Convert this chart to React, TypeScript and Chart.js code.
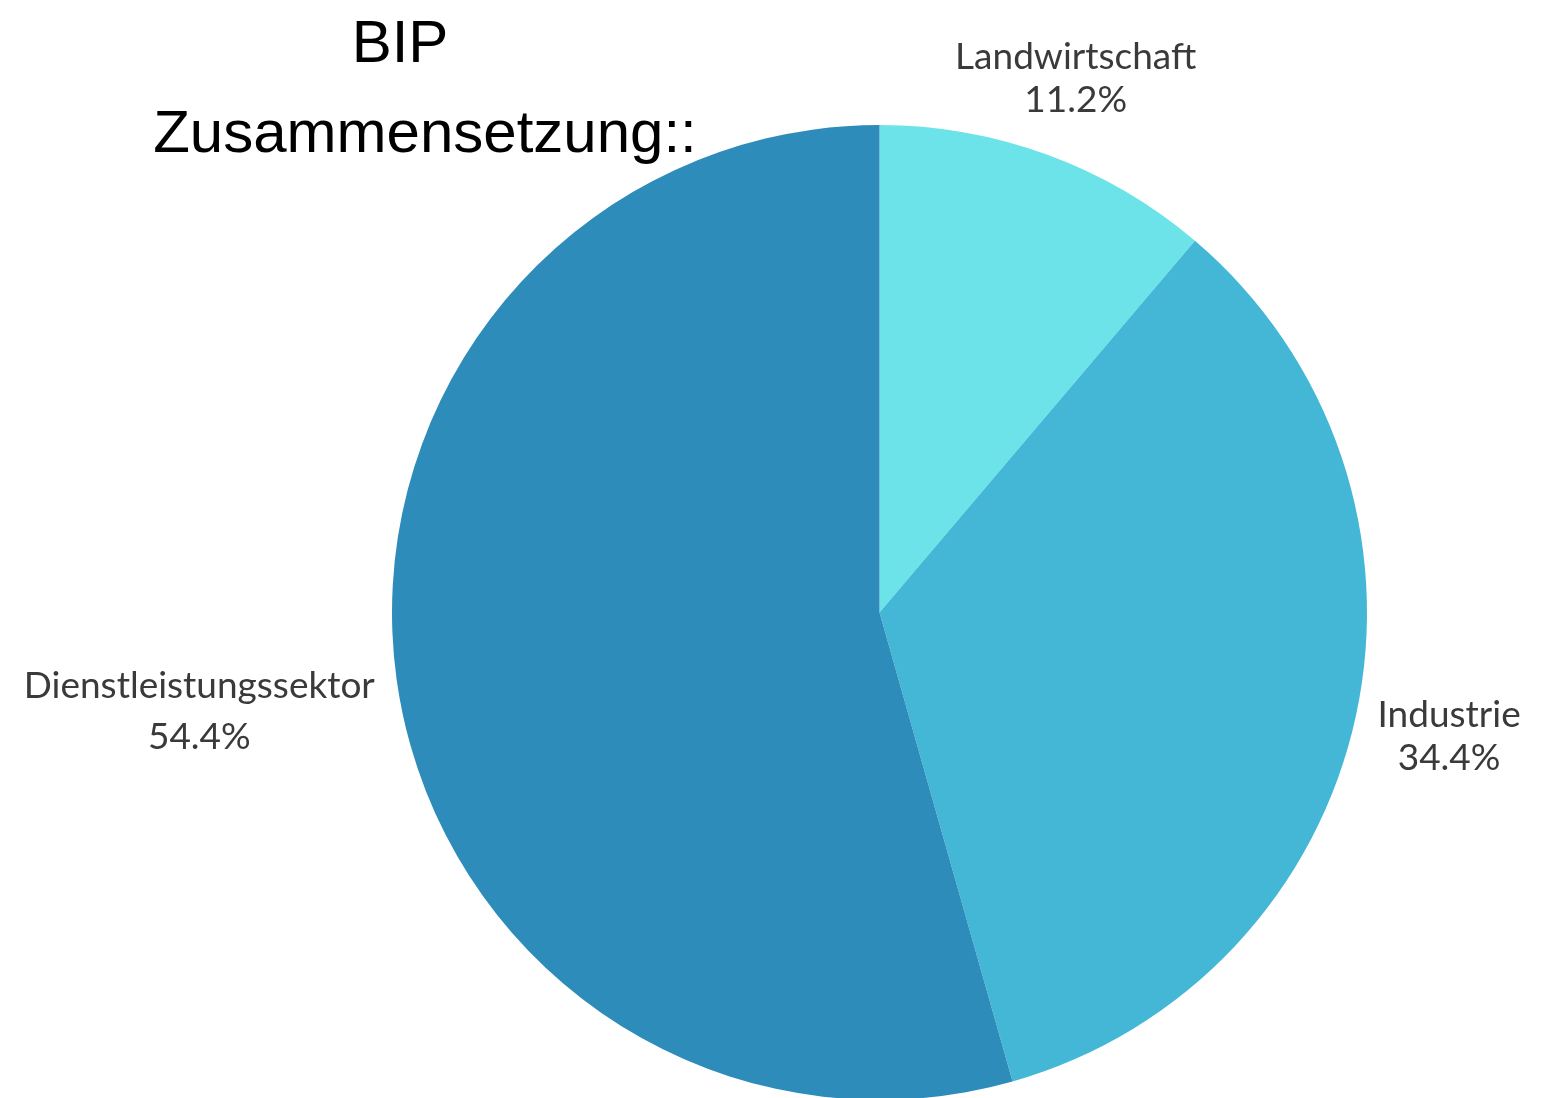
import React, { useEffect, useRef } from "react";
import { Chart, registerables } from "chart.js";

Chart.register(...registerables);

const categories = ["Landwirtschaft", "Industrie", "Dienstleistungssektor"];
const shares = [11.2, 34.4, 54.4];
const sliceColors = ["#6CE3E8", "#44B7D6", "#2E8CBA"];
const titleLines = ["BIP", "Zusammensetzung::"];

const labelFont = '37px Lato, "Open Sans", sans-serif';
const labelColor = "#3a3a3a";
const labelLineHeight = 42;
const labelLineGaps = [43, 43, 51];
const labelPadX = 2;
const labelPadY = 16;
const labelOffset = 20;

const titlePlugin = {
  id: "customTitle",
  afterDraw(chart: any) {
    const ctx = chart.ctx;
    ctx.save();
    ctx.fillStyle = "#000";
    ctx.font = '60px "Liberation Sans", Arial, sans-serif';
    ctx.textAlign = "center";
    ctx.textBaseline = "alphabetic";
    ctx.fillText(titleLines[0], 400, 62);
    ctx.fillText(titleLines[1], 425, 152);
    ctx.restore();
  },
};

const outLabelPlugin = {
  id: "outLabels",
  afterDatasetsDraw(chart: any) {
    const ctx = chart.ctx;
    const meta = chart.getDatasetMeta(0);
    const ds = chart.data.datasets[0];
    ctx.save();
    ctx.font = labelFont;
    ctx.fillStyle = labelColor;
    ctx.textAlign = "center";
    ctx.textBaseline = "middle";
    meta.data.forEach((arc: any, i: number) => {
      const p = arc.getProps(["x", "y", "startAngle", "endAngle", "outerRadius"], true);
      const mid = (p.startAngle + p.endAngle) / 2;
      const dx = Math.cos(mid);
      const dy = Math.sin(mid);
      const lines = [String(chart.data.labels[i]), ds.data[i].toFixed(1) + "%"];
      const w = Math.max(...lines.map((l) => ctx.measureText(l).width)) + 2 * labelPadX;
      const h = lines.length * labelLineHeight + 2 * labelPadY;
      const tx = Math.abs(dx) > 1e-6 ? w / 2 / Math.abs(dx) : Infinity;
      const ty = Math.abs(dy) > 1e-6 ? h / 2 / Math.abs(dy) : Infinity;
      const t = Math.min(tx, ty);
      const r = p.outerRadius + labelOffset + t;
      const cx = p.x + dx * r;
      const cy = p.y + dy * r;
      const firstY = cy - ((lines.length - 1) / 2) * labelLineHeight;
      lines.forEach((l, k) => {
        ctx.fillText(l, cx, firstY + k * labelLineGaps[i]);
      });
    });
    ctx.restore();
  },
};

export default function App() {
  const ref = useRef<HTMLCanvasElement | null>(null);
  useEffect(() => {
    if (!ref.current) return;
    const chart = new Chart(ref.current, {
      type: "pie",
      data: {
        labels: categories,
        datasets: [
          {
            data: shares,
            backgroundColor: sliceColors,
            borderWidth: 0,
            hoverOffset: 0,
          },
        ],
      },
      options: {
        responsive: false,
        animation: false,
        layout: { padding: { top: 125, bottom: 20, left: 392, right: 190 } },
        plugins: {
          legend: { display: false },
          title: { display: false },
          tooltip: { enabled: false },
        },
      },
      plugins: [titlePlugin, outLabelPlugin],
    });
    return () => chart.destroy();
  }, []);
  return (
    <div
      style={{
        position: "fixed",
        left: 0,
        top: 0,
        width: 1557,
        height: 1098,
        overflow: "hidden",
        background: "#fff",
      }}
    >
      <canvas ref={ref} width={1557} height={1120} style={{ display: "block" }} />
    </div>
  );
}
